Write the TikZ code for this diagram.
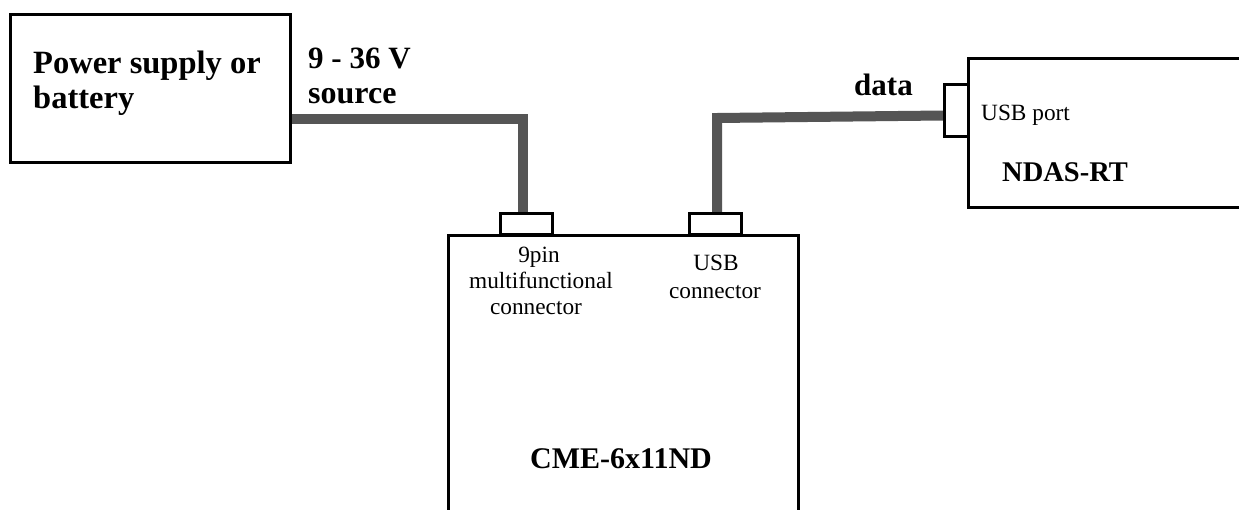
\documentclass[tikz,border=0pt]{standalone}
\usepackage{fontspec}
\setmainfont{Liberation Serif}
\definecolor{cablegray}{RGB}{85,85,85}
\begin{document}
\begin{tikzpicture}[x=1pt,y=-1pt,
  box/.style={draw=black, line width=3pt, rectangle, inner sep=0pt},
  plug/.style={draw=black, line width=3.2pt, rectangle, inner sep=0pt, fill=white},
  cable/.style={draw=cablegray, line width=10pt},
  bigtxt/.style={font=\bfseries\fontsize{31}{35}\selectfont, inner sep=0pt, anchor=base west},
  smalltxt/.style={font=\fontsize{23.3}{26}\selectfont, inner sep=0pt, anchor=base}]
\useasboundingbox[fill=white] (0,0) rectangle (1239,509);
% boxes
\node[box, minimum width=280pt, minimum height=148pt] (power) at (150.5,88.5) {};
\node[box, minimum width=350pt, minimum height=365pt] (main) at (623.5,417.5) {};
\node[box, minimum width=331.5pt, minimum height=149pt] (ndas) at (1134.25,133) {};
% plugs
\node[plug, minimum width=52pt, minimum height=21pt] (pin) at (526.5,224) {};
\node[plug, minimum width=52pt, minimum height=21pt] (usbc) at (715.5,224) {};
\node[plug, minimum width=24pt, minimum height=52pt] (port) at (956.5,110.5) {};
% cables
\coordinate (ubend) at (717,118);
\draw[cable] ([yshift=-30.5pt]power.east) -| ([xshift=-3.5pt]pin.north);
\draw[cable] ([xshift=1.5pt]usbc.north) -- (ubend) -- ([yshift=-5pt]port.west);
% texts
\node[bigtxt, font=\bfseries\fontsize{32.5}{35}\selectfont] (ps1) at (33,73) {Power supply or};
\node[bigtxt, font=\bfseries\fontsize{32.5}{35}\selectfont] (ps2) at (33,108) {battery};
\node[bigtxt] (v1) at (308,68) {9 - 36 V};
\node[bigtxt, font=\bfseries\fontsize{32}{35}\selectfont] (v2) at (308,103) {source};
\node[bigtxt] (datal) at (854,95) {data};
\node[bigtxt, font=\bfseries\fontsize{28.5}{30}\selectfont] (ndasl) at (1002,181) {NDAS-RT};
\node[bigtxt, anchor=base, font=\bfseries\fontsize{30}{32}\selectfont] (cmel) at (621,468) {CME-6x11ND};
\node[smalltxt, anchor=base west] (usbp) at (981,120) {USB port};
\node[smalltxt] (p1) at (539,262) {9pin};
\node[smalltxt] (p2) at (541,288) {multifunctional};
\node[smalltxt] (p3) at (536,314) {connector};
\node[smalltxt] (u1) at (716,270) {USB};
\node[smalltxt] (u2) at (715,298) {connector};
\end{tikzpicture}
\end{document}
